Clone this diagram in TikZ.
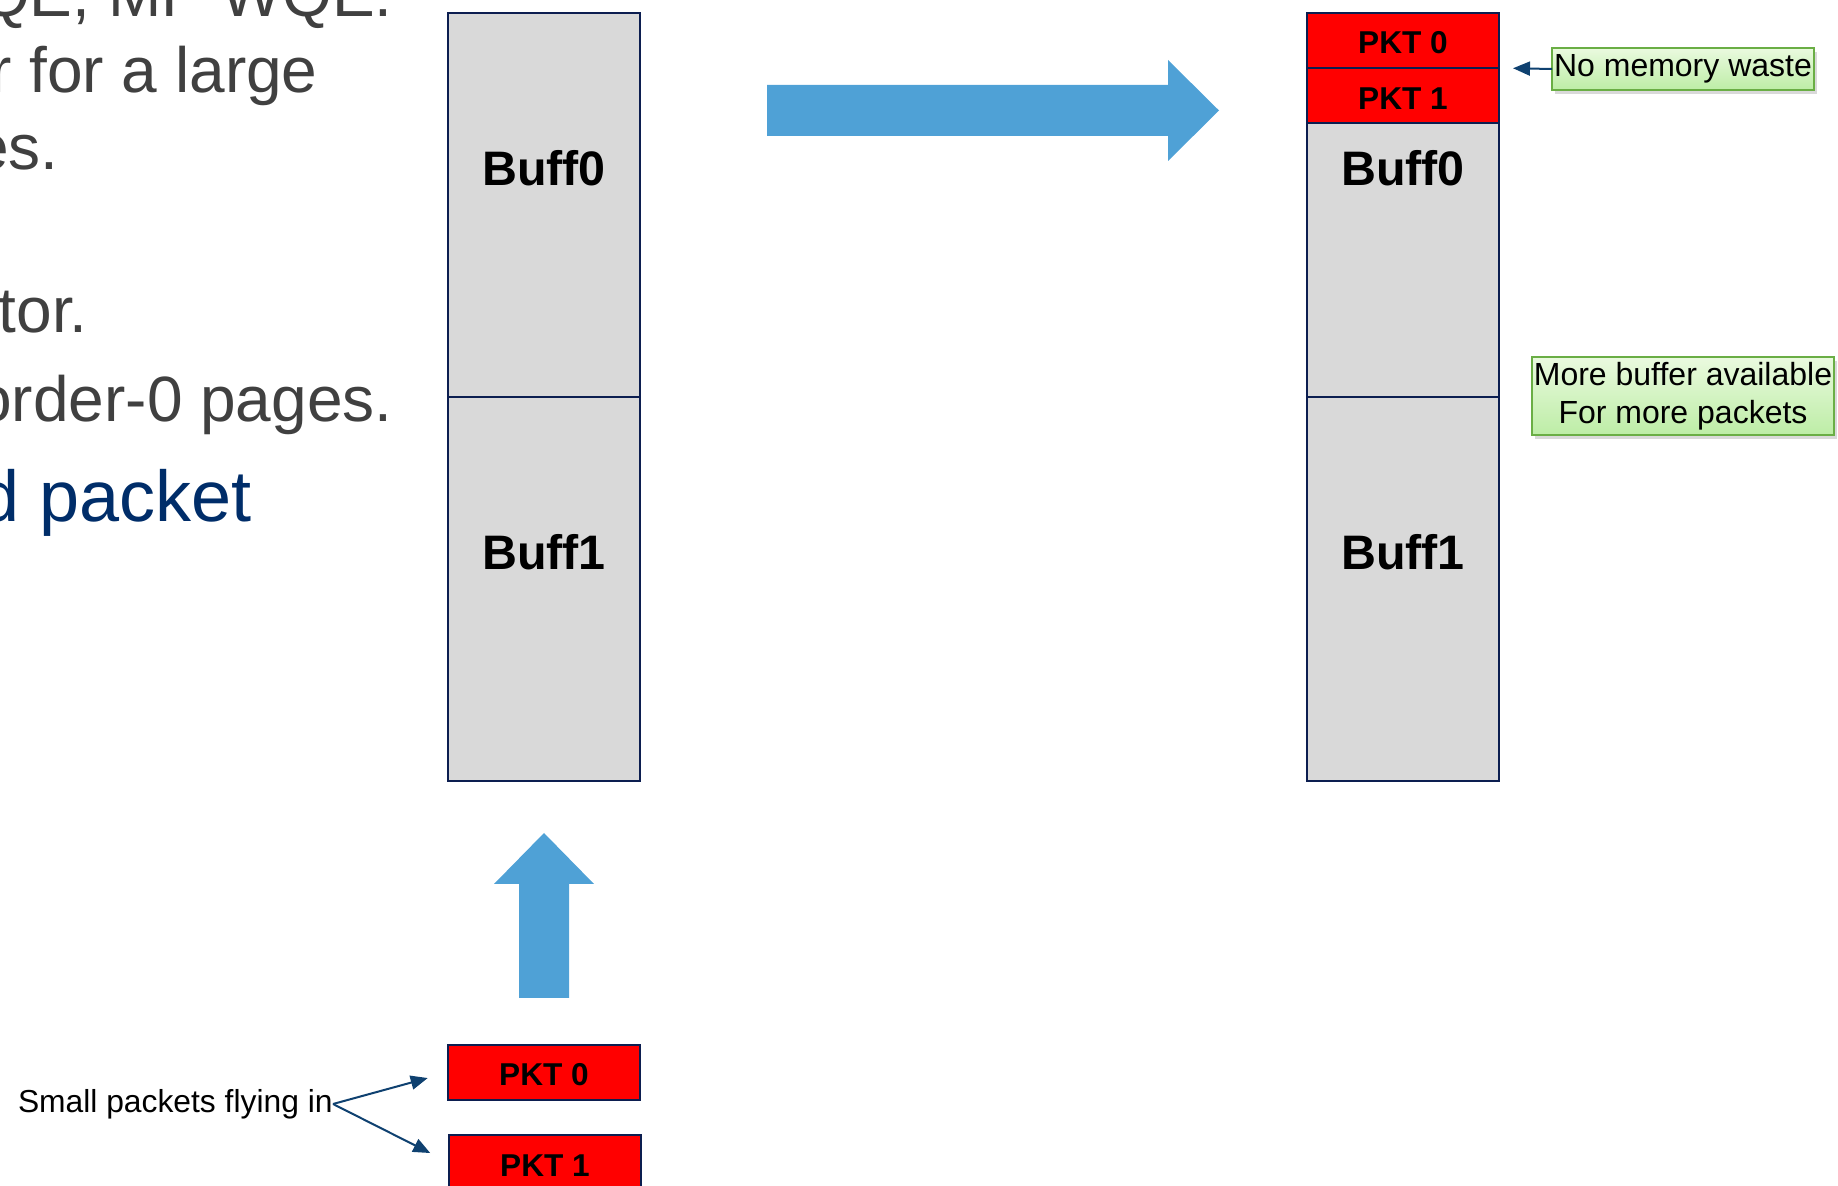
\documentclass[tikz,border=0pt]{standalone}
\usepackage{fontspec}
\setmainfont{Liberation Sans}
\usetikzlibrary{positioning, arrows.meta, shadows}

\definecolor{colEdge}{HTML}{0C1E50}
\definecolor{buffGray}{HTML}{D9D9D9}
\definecolor{pktRed}{HTML}{FF0000}
\definecolor{bigBlue}{HTML}{4FA1D6}
\definecolor{flowBlue}{HTML}{0F4170}
\definecolor{noteEdge}{HTML}{6AAE45}
\definecolor{noteTop}{HTML}{EAFADF}
\definecolor{noteBot}{HTML}{BDEDA6}
\definecolor{slideGray}{HTML}{404040}
\definecolor{slideBlue}{HTML}{002D69}

\begin{document}
\begin{tikzpicture}[
  x=0.5pt, y=-0.5pt,
  buffbox/.style={draw=colEdge, line width=1pt, fill=buffGray, minimum width=96pt, minimum height=192pt, inner sep=0pt, outer sep=0pt},
  pktbox/.style={draw=colEdge, line width=1pt, fill=pktRed, minimum width=96pt, minimum height=27.5pt, inner sep=0pt, outer sep=0pt, text height=13.6pt, font=\fontsize{15.8}{18}\selectfont\bfseries},
  bufftext/.style={font=\fontsize{24.2}{28}\selectfont\bfseries, inner sep=0pt, anchor=base},
  note/.style={draw=noteEdge, line width=0.75pt, top color=noteTop, bottom color=noteBot, drop shadow={shadow xshift=1.5pt, shadow yshift=-2pt, opacity=0.3}, font=\fontsize{16}{19}\selectfont, inner sep=1pt, outer sep=0pt, align=center},
  slide/.style={font=\fontsize{32}{38}\selectfont, text=slideGray, anchor=base east, inner sep=0pt},
  flow/.style={-{Triangle[length=8.5pt, width=7pt]}, draw=flowBlue, line width=1pt},
  blockarrow/.style={fill=bigBlue}
]
\path[use as bounding box] (0,0) rectangle (1838,1186);
\clip (0,0) rectangle (1838,1186);

% slide text cut off at the left
\node[slide] (s1) at (393,17) {QE, MP WQE.};
\node[slide] (s2) at (318,93) {r for a large};
\node[slide] (s3) at (59,170) {es.};
\node[slide] (s4) at (88,333) {tor.};
\node[slide] (s5) at (393,422) {order-0 pages.};
\node[slide, text=slideBlue, font=\fontsize{36}{42}\selectfont] (s6) at (252,522) {d packet};

% left buffers
\node[buffbox] (lb0) at (544,205) {};
\node[buffbox, below=0pt of lb0] (lb1) {};
\node[bufftext] (lb0t) at ([yshift=9.8pt]lb0.center) {Buff0};
\node[bufftext] (lb1t) at ([yshift=9.8pt]lb1.center) {Buff1};

% right buffers
\node[buffbox, right=333.5pt of lb0] (rb0) {};
\node[buffbox, below=0pt of rb0] (rb1) {};
\node[bufftext] (rb0t) at ([yshift=9.8pt]rb0.center) {Buff0};
\node[bufftext] (rb1t) at ([yshift=9.8pt]rb1.center) {Buff1};
\node[pktbox, below=0pt of rb0.north] (rpk0) {PKT 0};
\node[pktbox, below=0pt of rpk0] (rpk1) {PKT 1};

% incoming packets
\node[pktbox, below=132pt of lb1] (bpk0) {PKT 0};
\node[pktbox, below=17.5pt of bpk0, xshift=0.5pt] (bpk1) {PKT 1};
\node[font=\fontsize{15.9}{18}\selectfont, inner sep=0pt, anchor=east] (small) at (333,1104) {Small packets flying in};
\draw[flow, shorten >=10.5pt] (small.east) -- (bpk0.west);
\draw[flow, shorten >=10.5pt] (small.east) -- (bpk1.west);

% notes
\node[note, minimum width=130pt, minimum height=21pt] (waste) at (1683,69) {No memory waste};
\node[note, minimum width=150pt, minimum height=39pt, below=133.5pt of waste] (more) {More buffer available\\For more packets};
\draw[flow, shorten >=7pt] (waste.west) -- (rpk0.south east);

% block arrows
\fill[blockarrow] (767,85) -- (1168,85) -- (1168,60) -- (1219,110.5) -- (1168,161) -- (1168,136) -- (767,136) -- cycle;
\fill[blockarrow] (544,833) -- (594,884) -- (569,884) -- (569,998) -- (519,998) -- (519,884) -- (494,884) -- cycle;

\end{tikzpicture}
\end{document}
